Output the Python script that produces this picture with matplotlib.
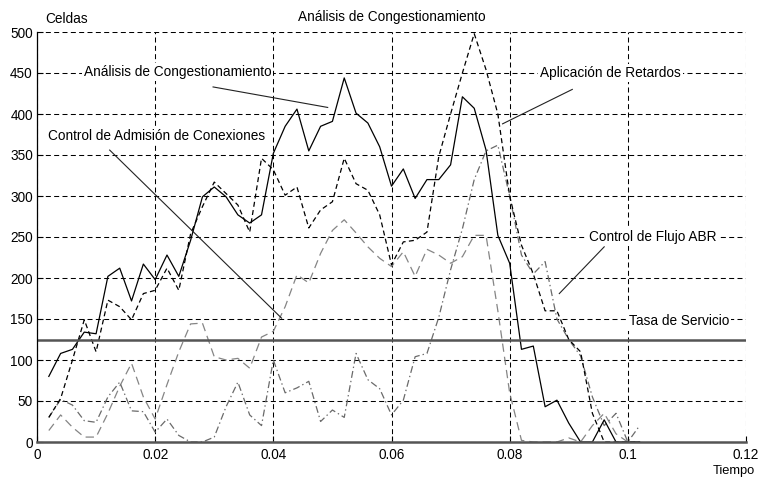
import numpy as np
import matplotlib
matplotlib.use('Agg')
import matplotlib.pyplot as plt

plt.rcParams['font.family'] = ['Liberation Sans', 'DejaVu Sans']
plt.rcParams['font.size'] = 9.8
plt.rcParams['lines.scale_dashes'] = False

# tiempo de cada muestra
tiempo = [0.002, 0.004, 0.006, 0.008, 0.010, 0.012, 0.014, 0.016, 0.018, 0.020,
          0.022, 0.024, 0.026, 0.028, 0.030, 0.032, 0.034, 0.036, 0.038, 0.040,
          0.042, 0.044, 0.046, 0.048, 0.050, 0.052, 0.054, 0.056, 0.058, 0.060,
          0.062, 0.064, 0.066, 0.068, 0.070, 0.072, 0.074, 0.076, 0.078, 0.080,
          0.082, 0.084, 0.086, 0.088, 0.090, 0.092, 0.094, 0.096, 0.098, 0.100,
          0.102]

# celdas en cola para cada mecanismo
analisis = [80, 108, 113, 134, 132, 202, 212, 172, 217, 198,
            228, 202, 246, 299, 311, 299, 277, 267, 277, 352,
            385, 406, 355, 385, 391, 444, 401, 389, 360, 312,
            333, 297, 320, 320, 338, 421, 407, 356, 252, 218,
            113, 117, 43, 51, 23, 0, 0, 27, 0, 0,
            0]
retardos = [30, 53, 100, 149, 110, 173, 165, 149, 181, 185,
            212, 185, 254, 287, 317, 303, 289, 256, 346, 332,
            301, 311, 261, 283, 293, 346, 315, 307, 277, 216,
            244, 246, 256, 348, 400, 450, 498, 454, 400, 300,
            240, 205, 160, 160, 125, 110, 35, 0, 0, 0,
            0]
flujo_abr = [30, 52, 45, 26, 24, 55, 73, 38, 37, 12,
             28, 8, 0, 0, 6, 43, 73, 33, 20, 100,
             60, 66, 74, 25, 39, 30, 108, 76, 65, 33,
             51, 104, 108, 152, 210, 260, 320, 355, 362, 300,
             228, 205, 220, 150, 125, 105, 55, 20, 35, 0,
             20]
admision = [14, 33, 18, 6, 6, 35, 68, 96, 55, 28,
            70, 110, 144, 145, 104, 100, 102, 90, 128, 135,
            165, 204, 194, 230, 258, 271, 255, 238, 224, 214,
            232, 202, 235, 228, 218, 226, 252, 252, 160, 60,
            2, 0, 0, 0, 5, 0, 20, 35, 10, 0,
            0]
tasa_servicio = 125

x_ticks = [0, 0.02, 0.04, 0.06, 0.08, 0.10, 0.12]
x_labels = ['0', '0.02', '0.04', '0.06', '0.08', '0.1', '0.12']
y_ticks = [0, 50, 100, 150, 200, 250, 300, 350, 400, 450, 500]

# texto, posicion del texto, linea guia (inicio, fin)
etiquetas = [
    ('Análisis de Congestionamiento', (0.0238, 451), (0.0298, 433), (0.0492, 408)),
    ('Aplicación de Retardos', (0.0970, 450), (0.0906, 430), (0.0788, 388)),
    ('Control de Admisión de Conexiones', (0.0203, 373), (0.0123, 356), (0.0414, 151)),
    ('Control de Flujo ABR', (0.1043, 250), (0.0960, 238), (0.0884, 181)),
    ('Tasa de Servicio', (0.1087, 147), None, None),
]

fig = plt.figure(figsize=(7.58, 4.78), dpi=100)
ax = fig.add_axes([37/758, 36/478, 709/758, 410/478])

ax.plot(tiempo, admision, color='#858585', lw=0.9, linestyle=(0, (6, 3.6)))
ax.plot(tiempo, flujo_abr, color='#6a6a6a', lw=0.9, linestyle=(0, (5, 2.2, 1, 2.2)))
ax.plot(tiempo, retardos, color='black', lw=0.9, linestyle=(0, (3.6, 2.4)))
ax.plot(tiempo, analisis, color='black', lw=0.9)
ax.axhline(tasa_servicio, color='#555555', lw=1.8)

for texto, pos, ini, fin in etiquetas:
    ax.text(pos[0], pos[1], texto, ha='center', va='center', zorder=5,
            bbox=dict(facecolor='white', edgecolor='none', pad=1.5))
    if ini is not None:
        ax.plot([ini[0], fin[0]], [ini[1], fin[1]], color='#222222', lw=0.8, zorder=4)

ax.set_xlim(0, 0.12)
ax.set_ylim(0, 500)
ax.set_xticks(x_ticks)
ax.set_xticklabels(x_labels)
ax.set_yticks(y_ticks)
ax.set_axisbelow(True)
ax.grid(True, color='black', lw=0.75, linestyle=(0, (3.6, 2.4)))
ax.tick_params(direction='in', length=4.5, width=0.8, labelsize=9.8)
ax.tick_params(axis='y', pad=3)
ax.tick_params(axis='x', pad=4.5)
ax.spines['top'].set_visible(False)
ax.spines['right'].set_visible(False)
ax.spines['left'].set_linewidth(0.9)
ax.spines['bottom'].set_color('#555555')
ax.spines['bottom'].set_linewidth(1.8)

fig.text(392/758, 1 - 17/478, 'Análisis de Congestionamiento', ha='center', va='center')
fig.text(45/758, 1 - 19/478, 'Celdas', ha='left', va='center')
fig.text(755/758, 1 - 474/478, 'Tiempo', ha='right', va='baseline', fontsize=9.3)

plt.savefig('out.png', dpi=100, facecolor='white')
